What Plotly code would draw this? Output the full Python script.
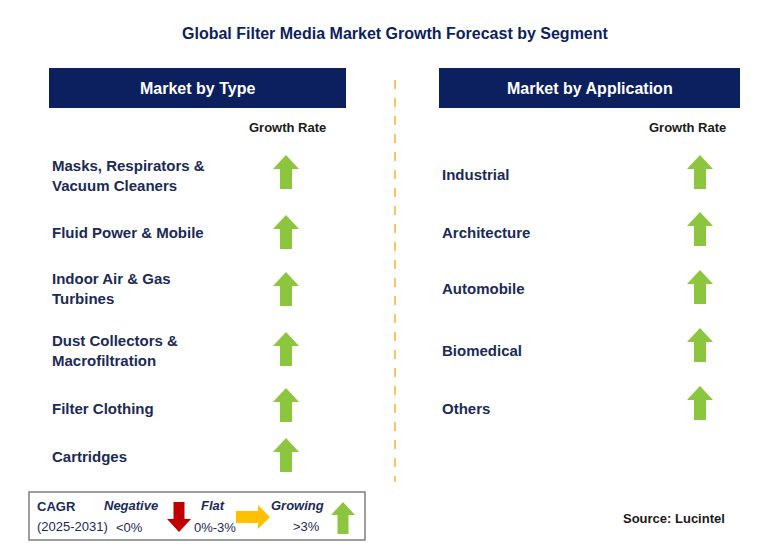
import plotly.graph_objects as go

NAVY = "#0C1F5E"
GREEN = "#8CC63F"
TXT = "#1B2A56"

type_labels = ["Masks, Respirators &<br>Vacuum Cleaners", "Fluid Power & Mobile",
               "Indoor Air & Gas<br>Turbines", "Dust Collectors &<br>Macrofiltration",
               "Filter Clothing", "Cartridges"]
type_y = [175, 232, 288, 350, 408, 456]
type_arrow_y = [172, 232, 289, 349, 405, 455]

app_labels = ["Industrial", "Architecture", "Automobile", "Biomedical", "Others"]
app_y = [174, 232, 288, 350, 408]
app_arrow_y = [172, 229, 287, 345, 403]


def up_arrow(cx, cy, w=26, h=34, sw=12, hh=14):
    top = cy - h / 2
    bot = cy + h / 2
    xs = [cx, cx + w / 2, cx + sw / 2, cx + sw / 2, cx - sw / 2, cx - sw / 2, cx - w / 2, cx]
    ys = [top, top + hh, top + hh, bot, bot, top + hh, top + hh, top]
    return xs, ys


def down_arrow(cx, cy, w=26, h=34, sw=12, hh=14):
    xs, ys = up_arrow(cx, cy, w, h, sw, hh)
    return xs, [2 * cy - y for y in ys]


def right_arrow(cx, cy, w=34, h=26, sw=12, hw=12):
    left = cx - w / 2
    right = cx + w / 2
    xs = [right, right - hw, right - hw, left, left, right - hw, right - hw, right]
    ys = [cy, cy - h / 2, cy - sw / 2, cy - sw / 2, cy + sw / 2, cy + sw / 2, cy + h / 2, cy]
    return xs, ys


fig = go.Figure()


def add_poly(xs, ys, color):
    fig.add_trace(go.Scatter(x=xs, y=ys, fill="toself", fillcolor=color, mode="lines",
                             line=dict(width=0, color=color), hoverinfo="skip", showlegend=False))


for y in type_arrow_y:
    add_poly(*up_arrow(286, y), GREEN)
for y in app_arrow_y:
    add_poly(*up_arrow(700, y), GREEN)

# legend arrows
add_poly(*down_arrow(179, 517, w=24, h=30, sw=11, hh=13), "#C00000")
add_poly(*right_arrow(253, 517, w=34, h=24, sw=12, hw=12), "#FFC000")
add_poly(*up_arrow(343, 518, w=24, h=32, sw=11, hh=13), GREEN)

# headers
for x0, x1, t in [(49, 346, "Market by Type"), (439, 740, "Market by Application")]:
    fig.add_shape(type="rect", x0=x0, x1=x1, y0=68, y1=108, fillcolor=NAVY, line_width=0, layer="below")
    fig.add_annotation(x=(x0 + x1) / 2, y=88, text="<b>%s</b>" % t, showarrow=False,
                       font=dict(size=16, color="white"))

fig.add_shape(type="line", x0=395, x1=395, y0=80, y1=482,
              line=dict(color="#F5B335", width=1.5, dash="dash"))
fig.add_shape(type="rect", x0=29, x1=365, y0=492, y1=540, line=dict(color="#7F7F7F", width=1.5))

fig.add_annotation(x=395, y=33, text="<b>Global Filter Media Market Growth Forecast by Segment</b>",
                   showarrow=False, font=dict(size=16, color=NAVY))
for x in [287, 687]:
    fig.add_annotation(x=x, y=127, text="<b>Growth Rate</b>", showarrow=False,
                       font=dict(size=13, color="#1A1A1A"))

for lab, y in zip(type_labels, type_y):
    fig.add_annotation(x=50, y=y, text="<b>%s</b>" % lab, showarrow=False, xanchor="left",
                       align="left", font=dict(size=15, color=TXT))
for lab, y in zip(app_labels, app_y):
    fig.add_annotation(x=440, y=y, text="<b>%s</b>" % lab, showarrow=False, xanchor="left",
                       align="left", font=dict(size=15, color=TXT))

leg = [(35, 506, "<b>CAGR</b>", "left"), (35, 526, "(2025-2031)", "left"),
       (131, 505, "<b><i>Negative</i></b>", "center"), (129, 527, "&lt;0%", "center"),
       (213, 505, "<b><i>Flat</i></b>", "center"), (215, 527, "0%-3%", "center"),
       (297, 505, "<b><i>Growing</i></b>", "center"), (306, 526, "&gt;3%", "center")]
for x, y, t, a in leg:
    fig.add_annotation(x=x, y=y, text=t, showarrow=False, xanchor=a,
                       font=dict(size=13, color=TXT))

fig.add_annotation(x=727, y=518, text="<b>Source: Lucintel</b>", showarrow=False, xanchor="right",
                   font=dict(size=13, color="#1A1A1A"))

# page body adds an 8px offset, so the axes start at 8
fig.update_xaxes(range=[8, 775], visible=False, fixedrange=True)
fig.update_yaxes(range=[565, 8], visible=False, fixedrange=True)
fig.update_layout(width=767, height=557, margin=dict(l=0, r=0, t=0, b=0),
                  plot_bgcolor="white", paper_bgcolor="white",
                  font=dict(family="Liberation Sans, Arial"))

fig.write_html("out.html")
